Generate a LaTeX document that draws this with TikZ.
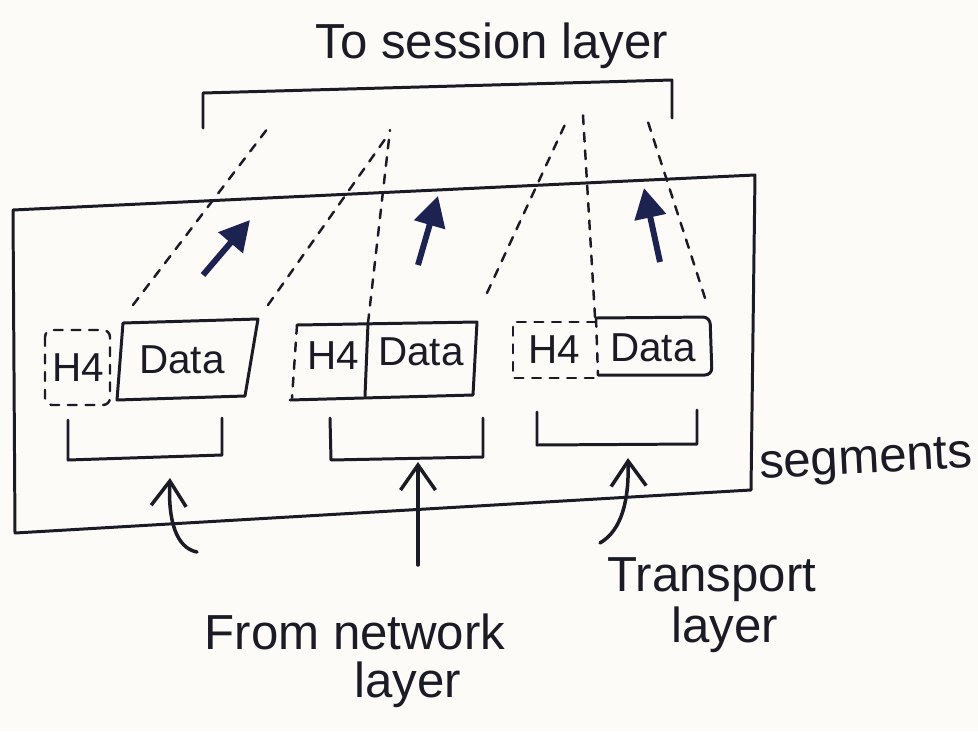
\documentclass[tikz,border=0pt]{standalone}
\usepackage{fontspec}
\setmainfont{Liberation Sans}
\usetikzlibrary{arrows.meta}
\definecolor{inkc}{HTML}{1B1B26}
\definecolor{bluec}{HTML}{1C2350}
\definecolor{paper}{HTML}{FCFBF8}
\begin{document}
\begin{tikzpicture}[x=0.02cm,y=-0.02cm,
  ink/.style={draw=inkc, line width=1.7pt, line cap=round, line join=round},
  dsh/.style={ink, line width=1.4pt, dash pattern=on 5pt off 5pt},
  bigtxt/.style={text=inkc, font=\fontsize{28}{32}\selectfont, inner sep=0pt},
  boxtxt/.style={text=inkc, font=\fontsize{23}{27}\selectfont, inner sep=0pt},
  uparrow/.style={ink, line width=2pt, -{Straight Barb[length=0.5cm,width=0.7cm,line width=2pt]}},
  fatarrow/.style={draw=bluec, line width=3.4pt, -{Triangle[length=0.6cm,width=0.62cm]}}]
\fill[paper] (0,0) rectangle (978,731);
\useasboundingbox (0,0) rectangle (978,731);

% top label and bracket
\node[bigtxt] (ts) at (492,46) {To session layer};
\coordinate (tbl) at (203,128);
\coordinate (tbl2) at (203,93);
\coordinate (tbr2) at (672,80);
\coordinate (tbr) at (672,118);
\draw[ink] (tbl) -- (tbl2) -- (tbr2) -- (tbr);

% main frame
\coordinate (f1) at (13,210);
\coordinate (f2) at (755,175);
\coordinate (f3) at (751,490);
\coordinate (f4) at (15,533);
\draw[ink] (f1) -- (f2) -- (f3) -- (f4) -- cycle;
\node[bigtxt, rotate=3] (seg) at (866,462) {segments};

% segment 1
\draw[dsh, rounded corners=4pt] (45,330) rectangle (110,405);
\node[boxtxt] (h1) at (78,368) {H4};
\draw[ink] (123,323) -- (258,319) -- (245,396) -- (117,400) -- cycle;
\node[boxtxt] (d1) at (182,360) {Data};

% segment 2
\draw[ink] (297,325) -- (477,322) -- (473,395) -- (290,400);
\draw[dsh] (297,325) -- (292,398);
\draw[ink] (368,323) -- (365,396);
\node[boxtxt] (h2) at (333,356) {H4};
\node[boxtxt] (d2) at (421,352) {Data};

% segment 3
\draw[dsh] (596,322) -- (513,322) -- (513,378) -- (596,378);
\draw[ink, rounded corners=4pt] (596,318) -- (710,317) -- (712,375) -- (598,375);
\draw[dsh] (596,318) -- (598,375);
\node[boxtxt] (h3) at (554,350) {H4};
\node[boxtxt] (d3) at (653,348) {Data};

% brackets under segments
\draw[ink] (68,420) -- (68,460) -- (222,455) -- (222,418);
\draw[ink] (330,418) -- (331,460) -- (483,457) -- (483,418);
\draw[ink] (537,412) -- (537,445) -- (697,444) -- (697,410);

% dashed funnels
\coordinate (s1a) at (133,305); \coordinate (s1b) at (268,128);
\coordinate (s1c) at (268,305); \coordinate (s1d) at (388,135);
\coordinate (s2a) at (368,323); \coordinate (s2b) at (390,130);
\coordinate (s2c) at (487,293); \coordinate (s2d) at (568,118);
\coordinate (s3a) at (595,317); \coordinate (s3b) at (583,115);
\coordinate (s3c) at (705,298); \coordinate (s3d) at (648,122);
\draw[dsh] (s1a) -- (s1b);
\draw[dsh] (s1c) -- (s1d);
\draw[dsh] (s2a) -- (s2b);
\draw[dsh] (s2c) -- (s2d);
\draw[dsh] (s3a) -- (s3b);
\draw[dsh] (s3c) -- (s3d);

% inner arrows
\coordinate (A0) at (203,275); \coordinate (A1) at (250,220);
\coordinate (B0) at (418,265); \coordinate (B1) at (438,196);
\coordinate (C0) at (660,262); \coordinate (C1) at (644,188);
\draw[fatarrow] (A0) -- (A1);
\draw[fatarrow] (B0) -- (B1);
\draw[fatarrow] (C0) -- (C1);

% arrows from below
\coordinate (u1t) at (197,552); \coordinate (u1h) at (170,478);
\coordinate (u2t) at (418,565); \coordinate (u2h) at (418,462);
\coordinate (u3t) at (600,543); \coordinate (u3h) at (628,458);
\draw[uparrow] (u1t) .. controls (176,548) and (168,520) .. (u1h);
\draw[uparrow] (u2t) -- (u2h);
\draw[uparrow] (u3t) .. controls (622,530) and (629,500) .. (u3h);

% bottom labels
\node[bigtxt] (fn) at (355,632) {From network};
\node[bigtxt] (fl) at (408,685) {layer};
\node[bigtxt] (tr) at (712,580) {Transport};
\node[bigtxt] (tl) at (725,630) {layer};
\end{tikzpicture}
\end{document}
